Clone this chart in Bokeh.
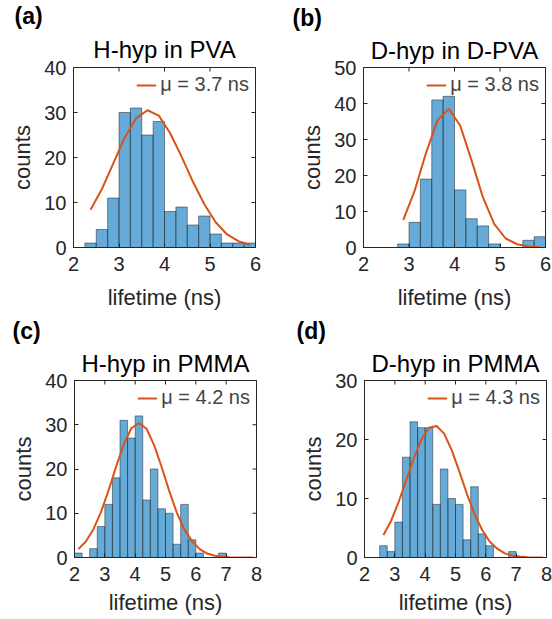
import math
from bokeh.plotting import figure
from bokeh.models import Range1d, FixedTicker, Title, Legend, LegendItem, ColumnDataSource
from bokeh.layouts import column, row
from bokeh.embed import file_html
from bokeh.resources import INLINE

FONT = "Liberation Sans"
AX = "#262626"
BAR = "#0072BD"
FIT = "#D95319"
BIN = 0.25

# ---------------- data ----------------
# (a) H-hyp in PVA
a_left = [2.25, 2.5, 2.75, 3.0, 3.25, 3.5, 3.75, 4.0, 4.25, 4.5, 4.75, 5.0, 5.25, 5.5, 5.75]
a_counts = [1, 4, 11, 30, 31, 25, 28, 8, 9, 5, 7, 3, 1, 1, 1]
a_fit = [8.4, 13.0, 18.7, 24.4, 28.7, 30.5, 29.3, 25.4, 20.2, 14.6, 9.6, 5.6, 2.9, 1.4, 0.6]

# (b) D-hyp in D-PVA
b_left = [2.75, 3.0, 3.25, 3.5, 3.75, 4.0, 4.25, 4.5, 4.75, 5.0, 5.25, 5.5, 5.75]
b_counts = [1, 7, 19, 41, 42, 16, 8, 6, 1, 0, 0, 2, 3]
b_fit = [7.7, 15.8, 26.3, 35.3, 38.5, 33.9, 24.2, 13.9, 6.5, 2.5, 0.9, 0.3, 0.1]

# (c) H-hyp in PMMA
c_left = [2.0, 2.25, 2.5, 2.75, 3.0, 3.25, 3.5, 3.75, 4.0, 4.25, 4.5, 4.75,
          5.0, 5.25, 5.5, 5.75, 6.0, 6.25, 6.5, 6.75, 7.0, 7.25, 7.5, 7.75]
c_counts = [1, 0, 2, 7, 12, 18, 31, 27, 32, 13, 20, 11,
            10, 3, 12, 4, 1, 0, 0, 1, 0, 0, 0, 0]
c_fit = [1.9, 3.6, 6.4, 10.3, 15.2, 20.6, 25.6, 29.2, 30.4, 29.1, 25.4, 20.4,
         15.0, 10.1, 6.3, 3.7, 1.9, 0.9, 0.4, 0.15, 0.05, 0.02, 0.0, 0.0]

# (d) D-hyp in PMMA
d_left = [2.5, 2.75, 3.0, 3.25, 3.5, 3.75, 4.0, 4.25, 4.5, 4.75, 5.0,
          5.25, 5.5, 5.75, 6.0, 6.25, 6.5, 6.75, 7.0, 7.25, 7.5, 7.75]
d_counts = [2, 1, 6, 17, 23, 22, 22, 9, 15, 10, 9,
            3, 12, 4, 2, 0, 0, 1, 0, 0, 0, 0]
d_fit = [3.8, 6.2, 9.4, 13.1, 16.8, 20.0, 22.0, 22.3, 21.0, 18.2, 14.6,
         10.8, 7.4, 4.7, 2.7, 1.5, 0.7, 0.3, 0.15, 0.06, 0.02, 0.01]

titles = ["H-hyp in PVA", "D-hyp in D-PVA", "H-hyp in PMMA", "D-hyp in PMMA"]
letters = ["(a)", "(b)", "(c)", "(d)"]
mu_labels = ["\u03bc = 3.7 ns", "\u03bc = 3.8 ns", "\u03bc = 4.2 ns", "\u03bc = 4.3 ns"]
x_ticks_top = [2, 3, 4, 5, 6]
x_ticks_bot = [2, 3, 4, 5, 6, 7, 8]
y_ticks = [[0, 10, 20, 30, 40], [0, 10, 20, 30, 40, 50], [0, 10, 20, 30, 40], [0, 10, 20, 30]]
x_max = [6, 6, 8, 8]
y_max = [40, 50, 40, 30]


def style_axis(ax, ticks, label, label_standoff, tick_standoff):
    ax.ticker = FixedTicker(ticks=ticks)
    ax.major_tick_in = 4
    ax.major_tick_out = 0
    ax.minor_tick_in = 0
    ax.minor_tick_out = 0
    ax.axis_line_color = AX
    ax.major_tick_line_color = AX
    ax.major_label_text_font = FONT
    ax.major_label_text_color = AX
    ax.major_label_text_font_size = "20px"
    ax.major_label_standoff = tick_standoff
    ax.axis_label = label
    ax.axis_label_text_font = FONT
    ax.axis_label_text_font_size = "22px"
    ax.axis_label_text_font_style = "normal"
    ax.axis_label_text_color = AX
    ax.axis_label_standoff = label_standoff


def make(i, left, counts, fit, xticks, width, height, b_left, b_right, b_top, b_bottom,
         letter_off, title_standoff, xlabel_standoff):
    p = figure(width=width, height=height, x_range=Range1d(2, x_max[i]), y_range=Range1d(0, y_max[i]),
               output_backend="svg", toolbar_location=None, title=None,
               min_border_left=b_left, min_border_right=b_right,
               min_border_top=b_top, min_border_bottom=b_bottom)
    p.xgrid.visible = False
    p.ygrid.visible = False
    p.outline_line_color = AX
    p.background_fill_color = "white"

    right_edges = [l + BIN for l in left]
    src = ColumnDataSource(dict(left=left, right=right_edges, top=counts, bottom=[0] * len(counts)))
    p.quad(left="left", right="right", top="top", bottom="bottom", source=src,
           fill_color=BAR, fill_alpha=0.6, line_color="#1a1a1a", line_width=0.6, line_alpha=0.8)

    centers = [l + BIN / 2 for l in left]
    r = p.line(centers, fit, line_color=FIT, line_width=2)

    style_axis(p.xaxis[0], xticks, "lifetime (ns)", xlabel_standoff, 9)
    style_axis(p.yaxis[0], y_ticks[i], "counts", 6, 7)

    # inward box ticks on the top and right edges (clipped to the frame)
    p.scatter(xticks, [y_max[i]] * len(xticks), marker="dash", angle=math.pi / 2, size=8,
              line_color=AX, line_width=1)
    p.scatter([x_max[i]] * len(y_ticks[i]), y_ticks[i], marker="dash", size=8,
              line_color=AX, line_width=1)

    p.add_layout(Title(text=titles[i], align="center", text_font=FONT, text_font_size="24px",
                       text_font_style="normal", text_color="black", standoff=title_standoff,
                       text_line_height=0.6), "above")
    p.add_layout(Title(text=letters[i], align="left", offset=letter_off, text_font=FONT,
                       text_font_size="23px", text_font_style="bold", text_color="black",
                       standoff=0), "above")

    leg = Legend(items=[LegendItem(label=mu_labels[i], renderers=[r])], location="top_right",
                 border_line_alpha=0, background_fill_alpha=0, label_text_font=FONT,
                 label_text_font_size="20px", glyph_width=20, label_standoff=4,
                 padding=6, margin=0, spacing=0)
    p.add_layout(leg)
    return p


pa = make(0, a_left, a_counts, a_fit, x_ticks_top, 285, 315, 73, 30, 66, 68, -59, 10, 11)
pb = make(1, b_left, b_counts, b_fit, x_ticks_top, 267, 315, 78, 7, 64, 68, -71, 8, 11)
pc = make(2, c_left, c_counts, c_fit, x_ticks_bot, 285, 304, 74, 29, 62, 62, -62, 8, 6)
pd = make(3, d_left, d_counts, d_fit, x_ticks_bot, 267, 304, 79, 6, 62, 62, -68, 8, 6)

layout = column(row(pa, pb), row(pc, pd))
open("out.html", "w").write(file_html(layout, INLINE))
